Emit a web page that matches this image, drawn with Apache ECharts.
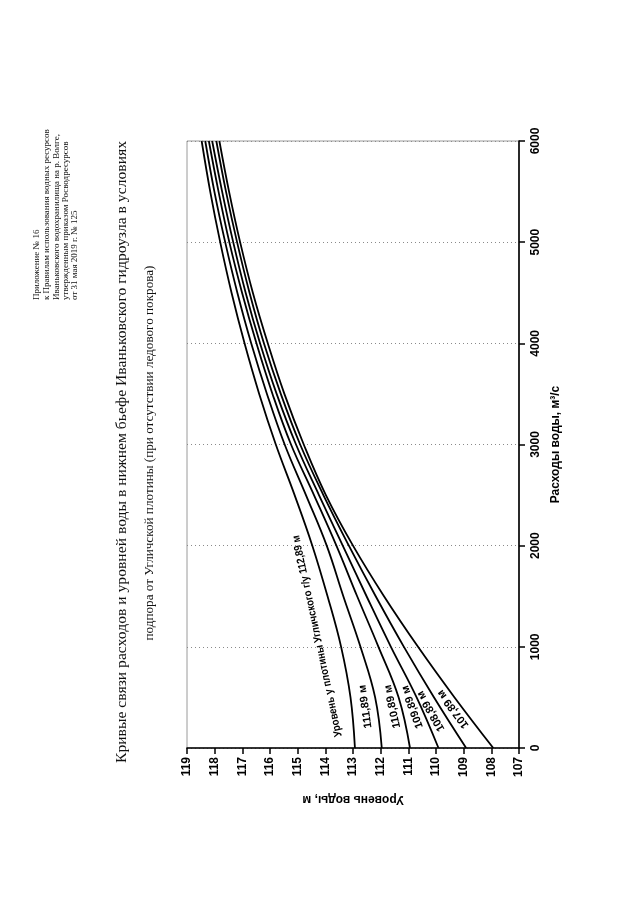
<!DOCTYPE html>
<html><head><meta charset="utf-8">
<script src="https://cdn.jsdelivr.net/npm/echarts@6/dist/echarts.min.js"></script>
<style>html,body{margin:0;padding:0;background:#fff}#c{width:640px;height:905px}</style>
</head><body><div id="c"></div>
<script>
// Discharge values (m3/s) at which levels are read
const discharge = [0, 500, 1000, 1500, 2000, 2500, 3000, 3500, 4000, 4500, 5000, 5500, 6000];
// Tailwater level (m) for each Uglich dam level
const level_11289 = [112.93, 113.09, 113.43, 113.92, 114.47, 115.11, 115.79, 116.39, 116.92, 117.39, 117.80, 118.16, 118.47];
const level_11189 = [111.96, 112.20, 112.73, 113.35, 113.95, 114.70, 115.47, 116.11, 116.68, 117.18, 117.62, 118.01, 118.34];
const level_11089 = [110.94, 111.35, 112.08, 112.85, 113.60, 114.41, 115.24, 115.91, 116.49, 117.01, 117.47, 117.86, 118.21];
const level_10989 = [109.91, 110.70, 111.63, 112.51, 113.37, 114.23, 115.06, 115.76, 116.36, 116.88, 117.33, 117.73, 118.09];
const level_10889 = [108.91, 110.07, 111.16, 112.18, 113.15, 114.07, 114.91, 115.61, 116.22, 116.74, 117.19, 117.59, 117.94];
const level_10789 = [107.93, 109.33, 110.65, 111.88, 113.00, 113.98, 114.78, 115.48, 116.08, 116.62, 117.08, 117.48, 117.83];
const curveNames = ['Уровень у плотины Угличского г/у 112,89 м', '111,89 м', '110,89 м', '109,89 м', '108,89 м', '107,89 м'];
const curveLevels = [level_11289, level_11189, level_11089, level_10989, level_10889, level_10789];
// Curve label anchors in data space [level, discharge] and text angle (deg)
const labelAnchors = [[114.29, 1107, 102], [112.55, 410, 98], [111.57, 410, 102], [110.85, 405, 110], [110.18, 365, 120], [109.38, 385, 127]];
const levelTicks = {min: 107, max: 119, step: 1};
const dischargeTicks = {min: 0, max: 6000, step: 1000};
const headerLines = ['Приложение № 16', 'к Правилам использования водных ресурсов', 'Иваньковского водохранилища на р. Волге,', 'утвержденным приказом Росводресурсов', 'от 31 мая 2019 г. № 125'];
const titleLines = ['Кривые связи расходов и уровней воды в нижнем бьефе Иваньковского гидроузла в условиях', 'подпора от Угличской плотины (при отсутствии ледового покрова)'];

const chart = echarts.init(document.getElementById('c'), null, {renderer: 'canvas'});
const sans = '"Liberation Sans", Arial, sans-serif';
const serif = '"Liberation Serif", "Times New Roman", serif';

const series = curveLevels.map((lv, i) => ({
  type: 'line', name: curveNames[i], smooth: 0.4, symbol: 'none', silent: true,
  data: discharge.map((q, k) => [lv[k], q]),
  lineStyle: {color: '#000', width: 1.8}
}));

chart.setOption({
  animation: false,
  backgroundColor: '#fff',
  grid: {left: 187, right: 121, top: 141, bottom: 157, show: true, borderColor: '#9a9a9a', borderWidth: 1, backgroundColor: 'transparent'},
  xAxis: {
    type: 'value', min: levelTicks.min, max: levelTicks.max, interval: levelTicks.step, inverse: true, position: 'bottom',
    axisLine: {onZero: false, lineStyle: {color: '#000', width: 1.6}},
    axisTick: {show: true, length: 6, lineStyle: {color: '#000', width: 1.5}},
    axisLabel: {rotate: 90, margin: 9, color: '#000', fontFamily: sans, fontWeight: 'bold', fontSize: 12, formatter: v => String(v)},
    splitLine: {show: false},
    name: 'Уровень воды, м', nameLocation: 'middle', nameRotate: 180, nameGap: 45,
    nameTextStyle: {color: '#000', fontFamily: sans, fontWeight: 'bold', fontSize: 12}
  },
  yAxis: {
    type: 'value', min: dischargeTicks.min, max: dischargeTicks.max, interval: dischargeTicks.step, position: 'right',
    axisLine: {show: true, onZero: false, lineStyle: {color: '#000', width: 1.6}},
    axisTick: {show: true, length: 6, lineStyle: {color: '#000', width: 1.5}},
    axisLabel: {rotate: 90, margin: 11, color: '#000', fontFamily: sans, fontWeight: 'bold', fontSize: 12, formatter: v => String(v)},
    splitLine: {show: true, lineStyle: {color: '#8a8a8a', width: 1, type: [1, 3]}},
    name: 'Расходы воды, м³/с', nameLocation: 'middle', nameRotate: 90, nameGap: 31,
    nameTextStyle: {color: '#000', fontFamily: sans, fontWeight: 'bold', fontSize: 12}
  },
  series: series
});

// Text measuring helper for fitting rotated page texts
const ctx = document.createElement('canvas').getContext('2d');
function fitScale(text, font, target) { ctx.font = font; return target / ctx.measureText(text).width; }

const g = [];
labelAnchors.forEach((a, i) => {
  const p = chart.convertToPixel({gridIndex: 0}, [a[0], a[1]]);
  g.push({type: 'text', x: p[0], y: p[1], rotation: a[2] * Math.PI / 180, silent: true,
    scaleX: i === 0 ? 0.88 : 1,
    style: {text: curveNames[i], fill: '#000', font: 'bold 11px ' + sans, align: 'center', verticalAlign: 'middle'}});
});
// Header (rotated page), lines start at bottom and read upward
const headerX = [37, 47, 57, 66, 75];
const headerFont = '9px ' + serif;
headerLines.forEach((t, i) => g.push({type: 'text', x: headerX[i], y: 300, rotation: Math.PI / 2, silent: true,
  style: {text: t, fill: '#111', font: headerFont, align: 'left', verticalAlign: 'middle'}}));
// Title lines, centred
const titleX = [122, 150];
const titleLen = [622, 375];
const titleCenterY = [452, 453];
const titleFonts = ['15.5px ' + serif, '13px ' + serif];
titleLines.forEach((t, i) => g.push({type: 'text', x: titleX[i], y: titleCenterY[i], rotation: Math.PI / 2, silent: true,
  scaleX: fitScale(t, titleFonts[i], titleLen[i]),
  style: {text: t, fill: '#111', font: titleFonts[i], align: 'center', verticalAlign: 'middle'}}));
chart.setOption({graphic: g});
</script></body></html>
